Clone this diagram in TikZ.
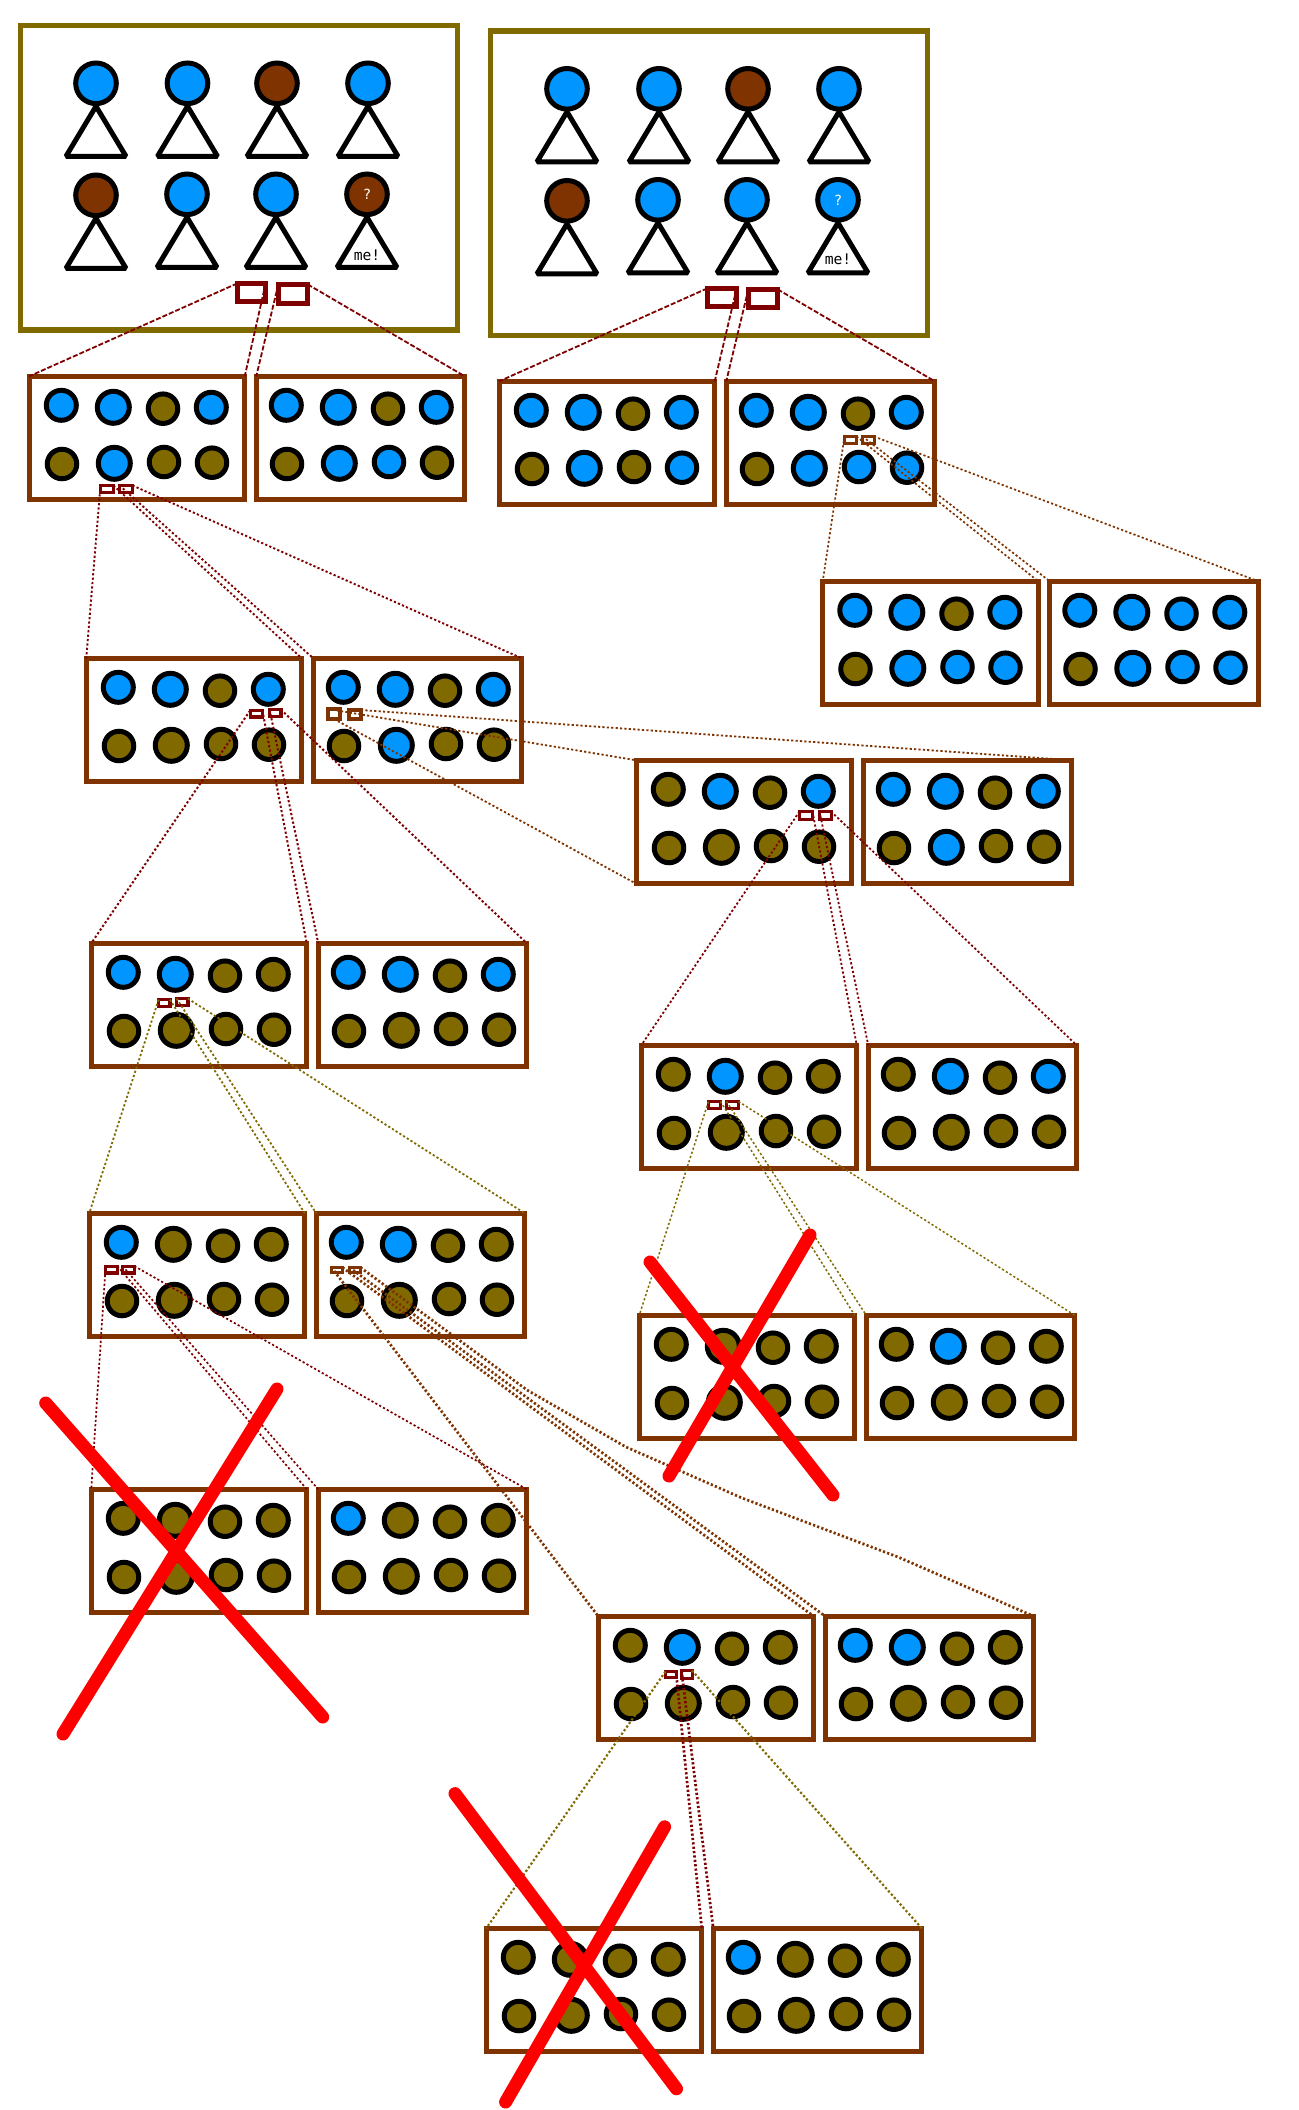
\documentclass[tikz,border=0pt]{standalone}
\usepackage{fontspec}
\newfontfamily\pixfont{DejaVu Sans Mono}
\definecolor{bl}{HTML}{0095FF}
\definecolor{ol}{HTML}{806A00}
\definecolor{br}{HTML}{7F3300}
\definecolor{dk}{HTML}{7F0000}
\definecolor{xred}{HTML}{FF0000}
\def\upx{0.75pt}
\tikzset{
  framebox/.style={draw=ol,line width=5.2*\upx,rectangle,inner sep=0pt,outer sep=0pt,minimum width=437*\upx,minimum height=304.5*\upx,anchor=north west},
  panelbox/.style={draw=br,line width=5*\upx,rectangle,inner sep=0pt,outer sep=0pt,minimum height=123.5*\upx,anchor=north west},
  pip/.style={circle,draw=black,line width=5*\upx,inner sep=0pt,outer sep=0pt},
  headnode/.style={circle,draw=black,line width=5*\upx,inner sep=0pt,outer sep=0pt,minimum size=40.6*\upx,text=white,font=\pixfont\fontsize{10.5}{12}\selectfont},
  bodyline/.style={draw=black,line width=5*\upx,line join=bevel,fill=white},
  lensbox/.style={rectangle,inner sep=0pt,outer sep=0pt,fill=none},
  dashlink/.style={draw=dk,line width=1.8*\upx,dash pattern=on 5*\upx off 2*\upx},
  dotlink/.style 2 args={draw=#1,line width=#2*\upx,dash pattern=on 2.2*\upx off 2.2*\upx},
  crossline/.style={draw=xred,line width=13*\upx,line cap=round},
  melabel/.style={inner sep=0pt,font=\pixfont\fontsize{11}{12}\selectfont},
}
% name, colour, line width, outer box x1 y1 x2 y2
\newcommand{\lens}[7]{%
  \pgfmathsetmacro{\lcx}{(#4+#6)/2}%
  \pgfmathsetmacro{\lcy}{(#5+#7)/2}%
  \pgfmathsetmacro{\lw}{#6-#4-#3}%
  \pgfmathsetmacro{\lh}{#7-#5-#3}%
  \node[lensbox,draw=#2,line width=#3*\upx,minimum width=\lw*\upx,minimum height=\lh*\upx] (#1) at (\lcx,\lcy) {};%
}
% name, outer x, outer y, width (centre line), x shift of pips, colours
\newcommand{\panel}[6]{%
  \node[panelbox,minimum width=#4*\upx] (#1) at ({#2+2.25},{#3+2.25}) {};%
  \foreach \cc [count=\i] in {#6} {%
    \pgfmathsetmacro{\ox}{{34.3,86.3,136,184.3,35,87.3,137,185}[\i-1]}%
    \pgfmathsetmacro{\oy}{{31.3,33.3,34.7,33.3,90,89.3,88,88.7}[\i-1]}%
    \pgfmathsetmacro{\dd}{{30,32,29.5,30,29.5,32,29.5,29.5}[\i-1]}%
    \node[pip,fill=\cc,minimum size=\dd*\upx] (#1c\i) at ({#2+\ox+#5},{#3+\oy}) {};%
  }%
}
% name, x, y, left colours, right colours
\newcommand{\pair}[5]{%
  \panel{#1L}{#2}{#3}{215.5}{0}{#4}%
  \panel{#1R}{#2+227}{#3}{208.5}{-2}{#5}%
}
% name, cx, cy, colour, head text
\newcommand{\person}[5]{%
  \path[bodyline] ({#2},{#3+23}) -- ({#2-30},{#3+73}) -- ({#2+30},{#3+73}) -- cycle;%
  \node[headnode,fill=#4] (#1) at (#2,#3) {#5};%
}
% four links of one glasses pair to a child pair
\newcommand{\links}[4]{%
  \draw[#4] (#1.north west) -- (#3L.north west);
  \draw[#4] (#1.north east) -- (#3L.north east);
  \draw[#4] (#2.north west) -- (#3R.north west);
  \draw[#4] (#2.north east) -- (#3R.north east);
}
\begin{document}
\begin{tikzpicture}[x=0.75pt,y=-0.75pt]
\useasboundingbox (0,0) rectangle (1299,2110);
\fill[white] (0,0) rectangle (1299,2110);
% frames
\node[framebox] (frameA) at (20.5,25.5) {};
\node[framebox] (frameB) at (490.5,31) {};
\person{a1}{96}{83.3}{bl}{}
\person{a2}{187.5}{83.3}{bl}{}
\person{a3}{277}{83.3}{br}{}
\person{a4}{368}{83.3}{bl}{}
\person{a5}{96}{195.3}{br}{}
\person{a6}{187}{194.3}{bl}{}
\person{a7}{276}{194.3}{bl}{}
\person{a8}{367}{194.3}{br}{?}
\node[melabel] (ame) at (367,255) {me!};
\person{b1}{567}{88.8}{bl}{}
\person{b2}{659}{88.8}{bl}{}
\person{b3}{748}{88.8}{br}{}
\person{b4}{839}{88.8}{bl}{}
\person{b5}{567}{200.8}{br}{}
\person{b6}{658}{199.8}{bl}{}
\person{b7}{747}{199.8}{bl}{}
\person{b8}{838}{199.8}{bl}{?}
\node[melabel] (bme) at (838,259.5) {me!};
% panels
\pair{P1}{27}{374}{bl,bl,ol,bl,ol,bl,ol,ol}{bl,bl,ol,bl,ol,bl,bl,ol}
\pair{P2}{497}{379}{bl,bl,ol,bl,ol,bl,ol,bl}{bl,bl,ol,bl,ol,bl,bl,bl}
\pair{P3}{820.5}{579}{bl,bl,ol,bl,ol,bl,bl,bl}{bl,bl,bl,bl,ol,bl,bl,bl}
\pair{P4}{84}{656}{bl,bl,ol,bl,ol,ol,ol,ol}{bl,bl,ol,bl,ol,bl,ol,ol}
\pair{P5}{89}{941}{bl,bl,ol,ol,ol,ol,ol,ol}{bl,bl,ol,bl,ol,ol,ol,ol}
\pair{P6}{634}{758}{ol,bl,ol,bl,ol,ol,ol,ol}{bl,bl,ol,bl,ol,bl,ol,ol}
\pair{P7}{639}{1043}{ol,bl,ol,ol,ol,ol,ol,ol}{ol,bl,ol,bl,ol,ol,ol,ol}
\pair{P8}{637}{1313}{ol,ol,ol,ol,ol,ol,ol,ol}{ol,bl,ol,ol,ol,ol,ol,ol}
\pair{P9}{87}{1211}{bl,ol,ol,ol,ol,ol,ol,ol}{bl,bl,ol,ol,ol,ol,ol,ol}
\pair{P10}{89}{1487}{ol,ol,ol,ol,ol,ol,ol,ol}{bl,ol,ol,ol,ol,ol,ol,ol}
\pair{P11}{596}{1614}{ol,bl,ol,ol,ol,ol,ol,ol}{bl,bl,ol,ol,ol,ol,ol,ol}
\pair{P12}{484}{1926}{ol,ol,ol,ol,ol,ol,ol,ol}{bl,ol,ol,ol,ol,ol,ol,ol}
% glasses
\lens{ga1}{dk}{4.7}{235}{281}{268}{304}
\lens{ga2}{dk}{4.7}{276}{282}{310}{306}
\lens{gb1}{dk}{4.7}{705}{286}{739}{308.5}
\lens{gb2}{dk}{4.7}{746}{287}{780}{310}
\lens{g11}{dk}{3}{99}{484}{115}{494}
\lens{g12}{dk}{3}{118}{484}{134}{494}
\lens{g21}{br}{3}{843}{435}{858}{444.5}
\lens{g22}{br}{3}{861}{435}{875.5}{444.5}
\lens{g41}{dk}{3.2}{248.5}{709}{264}{718.5}
\lens{g42}{dk}{3.2}{268}{708}{282.5}{718}
\lens{g43}{br}{4}{326}{707}{342}{721}
\lens{g44}{br}{4}{347}{708}{363}{721}
\lens{g51}{dk}{3.2}{157}{998}{171.5}{1008}
\lens{g52}{dk}{3.2}{175}{997}{189.5}{1007}
\lens{g61}{dk}{3}{798}{810}{814}{820.5}
\lens{g62}{dk}{3}{818}{810}{832.5}{820.5}
\lens{g71}{dk}{3}{707}{1100}{722}{1110}
\lens{g72}{dk}{3}{725}{1100}{740}{1110}
\lens{g91}{dk}{3.2}{104}{1264.5}{119}{1274.5}
\lens{g92}{dk}{3.2}{121}{1264.5}{136}{1274.5}
\lens{g93}{br}{3}{330}{1266}{344}{1274}
\lens{g94}{br}{3}{348}{1266}{362}{1274}
\lens{gc1}{dk}{3}{664}{1670}{677.5}{1679}
\lens{gc2}{dk}{3}{680}{1669}{693.5}{1680}
% connectors
\links{ga1}{ga2}{P1}{dashlink}
\links{gb1}{gb2}{P2}{dashlink}
\links{g11}{g12}{P4}{dotlink={dk}{1.9}}
\links{g21}{g22}{P3}{dotlink={br}{1.7}}
\links{g41}{g42}{P5}{dotlink={dk}{2}}
\draw[dotlink={br}{1.8}] (g44.north east) -- (P6R.north east);
\draw[dotlink={br}{1.8}] (g43.north west) -- (P6L.north west);
\draw[dotlink={br}{1.8}] (g43.south) -- (P6L.south west);
\links{g51}{g52}{P9}{dotlink={ol}{1.8}}
\links{g61}{g62}{P7}{dotlink={dk}{1.8}}
\links{g71}{g72}{P8}{dotlink={ol}{1.5}}
\links{g91}{g92}{P10}{dotlink={dk}{1.7}}
\draw[dotlink={br}{2.7}] (g93.north west) -- (P11L.north west);
\draw[dotlink={br}{2.7}] (g93.north east) -- (P11L.north east);
\draw[dotlink={br}{2.7}] (g94.north west) -- (P11R.north west);
\coordinate (bendA) at (527,1390);
\coordinate (bendB) at (626,1447);
\coordinate (bendC) at (742,1498);
\coordinate (bendD) at (898,1557);
\draw[dotlink={br}{2.7}] (g94.north east) -- (bendA) -- (bendB) -- (bendC) -- (bendD) -- (P11R.north east);
\draw[dotlink={ol}{2.2}] (gc1.north west) -- (P12L.north west);
\draw[dotlink={dk}{2.7}] (gc1.north east) -- (P12L.north east);
\draw[dotlink={dk}{2.7}] (gc2.north west) -- (P12R.north west);
\draw[dotlink={ol}{2.2}] (gc2.north east) -- (P12R.north east);
% crosses
\coordinate (x1a) at (45.7,1403); \coordinate (x1b) at (322.7,1717);
\coordinate (x1c) at (277,1389); \coordinate (x1d) at (63,1734);
\coordinate (x2a) at (650,1262); \coordinate (x2b) at (833,1495);
\coordinate (x2c) at (810,1235); \coordinate (x2d) at (669,1476);
\coordinate (x3a) at (455,1793.6); \coordinate (x3b) at (676.5,2088.8);
\coordinate (x3c) at (664.6,1826.8); \coordinate (x3d) at (505.6,2102);
\draw[crossline] (x1a) -- (x1b);
\draw[crossline] (x1c) -- (x1d);
\draw[crossline] (x2a) -- (x2b);
\draw[crossline] (x2c) -- (x2d);
\draw[crossline] (x3a) -- (x3b);
\draw[crossline] (x3c) -- (x3d);
\end{tikzpicture}
\end{document}
